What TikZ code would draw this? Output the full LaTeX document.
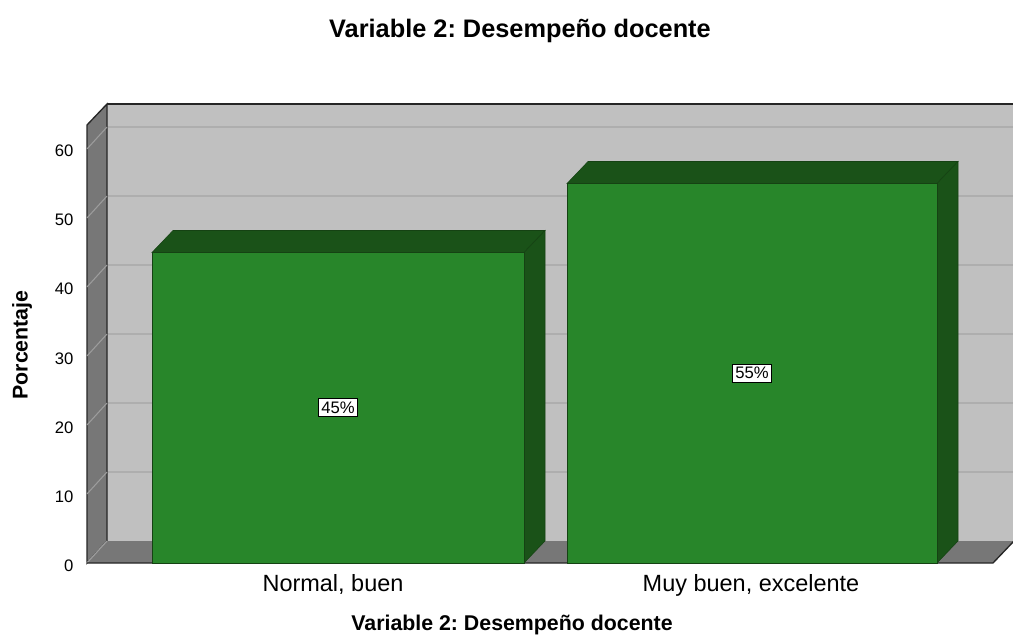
\documentclass[tikz,border=0pt]{standalone}
\usepackage{fontspec}
\setmainfont{Liberation Sans}
\definecolor{wallback}{HTML}{C0C0C0}
\definecolor{wallside}{HTML}{777777}
\definecolor{gridback}{HTML}{AEAEAE}
\definecolor{gridside}{HTML}{9C9C9C}
\definecolor{barfront}{HTML}{28862A}
\definecolor{bardark}{HTML}{1A5218}
\frenchspacing
\begin{document}
\begin{tikzpicture}[
        x=0.75pt, y=-0.75pt,
        sidewall/.style={fill=wallside, draw=black!85, line width=1pt},
        gridline/.style={draw=gridback, line width=1pt},
        sideline/.style={draw=gridside, line width=0.8pt},
        front/.style={fill=barfront, draw=bardark!80!black, line width=0.4pt},
        shade/.style={fill=bardark, draw=bardark!80!black, line width=0.4pt},
        pct/.style={draw=black, fill=white, line width=0.7pt, inner xsep=2pt,
                    inner ysep=2.5pt, font=\fontsize{12.5}{14}\selectfont},
        ticklabel/.style={anchor=base east, font=\fontsize{12.5}{14}\selectfont},
        catlabel/.style={anchor=base, font=\fontsize{17.6}{20}\selectfont},
        heading/.style={anchor=base, font=\bfseries\fontsize{19}{22}\selectfont},
        axistitle/.style={font=\bfseries\fontsize{16}{18}\selectfont}
    ]
    \useasboundingbox (0,0) rectangle (1013,641);

    % back wall with its grid
    \fill[wallback] (107,104) rectangle (1013,541);
    \foreach \v in {10,20,...,60}
        \draw[gridline] (107,{541-6.9*\v}) -- (1013,{541-6.9*\v});
    \draw[black!85, line width=1pt] (107,104) -- (1013,104);

    % left wall and floor
    \draw[sidewall] (87,125) -- (107,104) -- (107,541) -- (87,563) -- cycle;
    \foreach \v in {0,10,...,60}
        \draw[sideline] (87,{563-6.9*\v}) -- (107,{541-6.9*\v});
    \fill[wallside] (87,563) -- (107,541) -- (1014,541) -- (993,563) -- cycle;
    \draw[sideline] (87,563) -- (107,541);
    \draw[black!85, line width=1pt] (87,563) -- (993,563) -- (1014,541);

    % tick labels
    \foreach \v in {0,10,...,60}
        \node[ticklabel] (tick\v) at (78,{571-6.9*\v}) {\v};

    % bar: Normal, buen (45)
    \pgfmathsetmacro{\topa}{563-6.9*45}
    \filldraw[shade] (152,\topa) -- ++(21,-22) -- ++(372,0) -- ++(-21,22) -- cycle;
    \filldraw[shade] (524,\topa) -- ++(21,-22) -- (545,541) -- (524,563) -- cycle;
    \filldraw[front] (152,\topa) rectangle (524,563);

    % bar: Muy buen, excelente (55)
    \pgfmathsetmacro{\topb}{563-6.9*55}
    \filldraw[shade] (567,\topb) -- ++(21,-22) -- ++(370,0) -- ++(-21,22) -- cycle;
    \filldraw[shade] (937,\topb) -- ++(21,-22) -- (958,541) -- (937,563) -- cycle;
    \filldraw[front] (567,\topb) rectangle (937,563);

    % value labels
    \node[pct] (pcta) at (338,{563-6.9*22.5}) {45\%};
    \node[pct] (pctb) at (752,{563-6.9*27.5}) {55\%};

    % category labels and titles
    \node[catlabel] (cata) at (333,591) {Normal, buen};
    \node[catlabel] (catb) at (751,591) {Muy buen, excelente};
    \node[heading] (title) at (520,38) {Variable 2: Desempeño docente};
    \node[axistitle, anchor=base] (xtitle) at (512,630) {Variable 2: Desempeño docente};
    \node[axistitle, rotate=90] (ytitle) at (22,345) {Porcentaje};

\end{tikzpicture}
\end{document}
